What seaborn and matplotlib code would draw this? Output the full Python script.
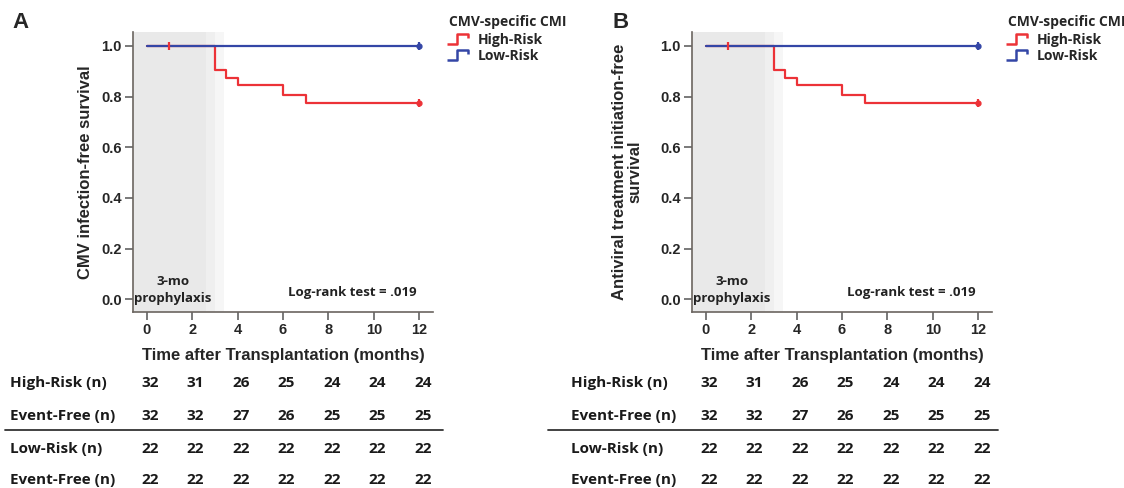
import numpy as np
import pandas as pd
import matplotlib
matplotlib.use("Agg")
import matplotlib.pyplot as plt
import seaborn as sns
from matplotlib.path import Path
from matplotlib.lines import Line2D
import matplotlib.transforms as mtransforms

# ---------------- data ----------------
high_time = [0, 3, 3.5, 4, 6, 7, 12]
high_surv = [1.0, 0.906, 0.875, 0.844, 0.806, 0.773, 0.773]
low_time = [0, 12]
low_surv = [1.0, 1.0]
high_censor_time = [1, 12]
high_censor_surv = [1.0, 0.773]
low_censor_time = [12]
low_censor_surv = [1.0]

table_times = [0, 2, 4, 6, 8, 10, 12]
row_labels = ["High-Risk (n)", "Event-Free (n)", "Low-Risk (n)", "Event-Free (n)"]
high_risk_n = [32, 31, 26, 25, 24, 24, 24]
high_event_free_n = [32, 32, 27, 26, 25, 25, 25]
low_risk_n = [22, 22, 22, 22, 22, 22, 22]
low_event_free_n = [22, 22, 22, 22, 22, 22, 22]

group_names = ["High-Risk", "Low-Risk"]
ylabels = ["CMV infection-free survival", "Antiviral treatment initiation-free\nsurvival"]
panel_letters = ["A", "B"]

RED = "#ec3237"
BLUE = "#3446a6"

sns.set_style("white")
plt.rcParams["font.family"] = ["Liberation Sans", "DejaVu Sans"]
CAL = "Open Sans"

W, H = 1124, 488
fig = plt.figure(figsize=(W / 100, H / 100), dpi=100)

def px_ax(left, top, right, bottom):
    return fig.add_axes([left / W, 1 - bottom / H, (right - left) / W, (bottom - top) / H])

df = pd.concat([
    pd.DataFrame({"time": high_time, "surv": high_surv, "group": "High-Risk"}),
    pd.DataFrame({"time": low_time, "surv": low_surv, "group": "Low-Risk"}),
], ignore_index=True)

rows = [high_risk_n, high_event_free_n, low_risk_n, low_event_free_n]
row_y = [383, 416, 449, 480]
letter_x = [20, 621]

step_marker = Path([(-1.0, -0.4), (-0.2, -0.4), (-0.2, 0.4), (0.8, 0.4), (0.8, 0.05)],
                   [Path.MOVETO, Path.LINETO, Path.LINETO, Path.LINETO, Path.LINETO])

for i, off in enumerate([0, 559]):
    ax = px_ax(133 + off, 31.7, 433 + off, 312)
    ax.set_xlim(-0.6, 12.6)
    ax.set_ylim(-0.05, 1.056)
    # prophylaxis shading
    ax.axvspan(-0.6, 2.6, color="#e9e9e9", lw=0, zorder=0)
    ax.axvspan(2.6, 3.0, color="#efefef", lw=0, zorder=0)
    ax.axvspan(3.0, 3.4, color="#f6f6f6", lw=0, zorder=0)

    sns.lineplot(data=df[df.group == "High-Risk"], x="time", y="surv", ax=ax,
                 color=RED, drawstyle="steps-post", estimator=None, sort=False,
                 lw=1.6, legend=False)
    sns.lineplot(data=df[df.group == "Low-Risk"], x="time", y="surv", ax=ax,
                 color=BLUE, drawstyle="steps-post", estimator=None, sort=False,
                 lw=1.6, legend=False)
    ax.plot(high_censor_time, high_censor_surv, ls="none", marker="|", ms=6, mew=1.6, color=RED)
    ax.plot(low_censor_time, low_censor_surv, ls="none", marker="|", ms=6, mew=1.6, color=BLUE)
    ax.plot(low_censor_time, low_censor_surv, ls="none", marker="o", ms=3.5, color=BLUE)
    ax.plot([high_censor_time[-1]], [high_censor_surv[-1]], ls="none", marker="o", ms=3.5, color=RED)

    for s in ["top", "right"]:
        ax.spines[s].set_visible(False)
    for s in ["left", "bottom"]:
        ax.spines[s].set_color("#6b6560")
        ax.spines[s].set_linewidth(1.2)
    ax.set_xticks(table_times)
    ax.set_yticks([0.0, 0.2, 0.4, 0.6, 0.8, 1.0])
    ax.set_yticklabels(["0.0", "0.2", "0.4", "0.6", "0.8", "1.0"])
    ax.tick_params(axis="both", direction="out", length=6, width=1.1, color="#555555",
                   labelsize=10.5, pad=2, left=True, bottom=True)
    for lab in ax.get_xticklabels() + ax.get_yticklabels():
        lab.set_fontweight("bold")
    ax.set_xlabel("Time after Transplantation (months)", fontsize=12, fontweight="bold", labelpad=8)
    ax.set_ylabel(ylabels[i], fontsize=12, fontweight="bold", linespacing=1.0)
    ax.yaxis.set_label_coords(-0.135 if i == 0 else -0.165, 0.5)

    ax.text(1.15, 0.072, "3-mo", transform=ax.transData, ha="center", va="center",
            fontsize=9.5, fontweight="bold", family=CAL, color="#222222")
    ax.text(1.15, 0.004, "prophylaxis", transform=ax.transData, ha="center", va="center",
            fontsize=9.5, fontweight="bold", family=CAL, color="#222222")
    ax.text(11.9, 0.028, "Log-rank test = .019", transform=ax.transData, ha="right", va="center",
            fontsize=9.5, fontweight="bold", family=CAL, color="#222222")

    fig.text(letter_x[i] / W, 1 - 22 / H, panel_letters[i], fontsize=16, fontweight="bold",
             ha="center", va="center")

    # legend
    handles = [Line2D([], [], ls="none", marker=step_marker, ms=17, mfc="none", mec=c, mew=1.8)
               for c in [RED, BLUE]]
    leg = ax.legend(handles, group_names, title="CMV-specific CMI",
                    bbox_to_anchor=((449 + off) / W, 1 - 15 / H), bbox_transform=fig.transFigure,
                    loc="upper left", frameon=False, alignment="left",
                    prop={"family": CAL, "weight": "bold", "size": 10},
                    title_fontproperties={"family": CAL, "weight": "bold", "size": 10},
                    handlelength=1.5, handletextpad=0.55, labelspacing=0.1, borderaxespad=0,
                    borderpad=0.0)
    leg._legend_box.sep = 3

    # at-risk table
    trans = mtransforms.blended_transform_factory(ax.transData, fig.transFigure)
    for r, (lab, vals) in enumerate(zip(row_labels, rows)):
        yy = 1 - row_y[r] / H
        fig.text((10 + off + (2 if i else 0)) / W, yy, lab, ha="left", va="center", fontsize=11,
                 fontweight="bold", family=CAL, color="#1a1a1a")
        for t, v in zip(table_times, vals):
            ax.text(t + 0.15, yy, str(v), transform=trans, ha="center", va="center",
                    fontsize=11, fontweight="bold", family=CAL, color="#1a1a1a", clip_on=False)
    x0, x1 = (5, 443) if i == 0 else (548, 998)
    fig.add_artist(Line2D([x0 / W, x1 / W], [1 - 430 / H, 1 - 430 / H],
                          transform=fig.transFigure, color="#333333", lw=1.3))

fig.savefig("out.png", dpi=100, facecolor="white")
